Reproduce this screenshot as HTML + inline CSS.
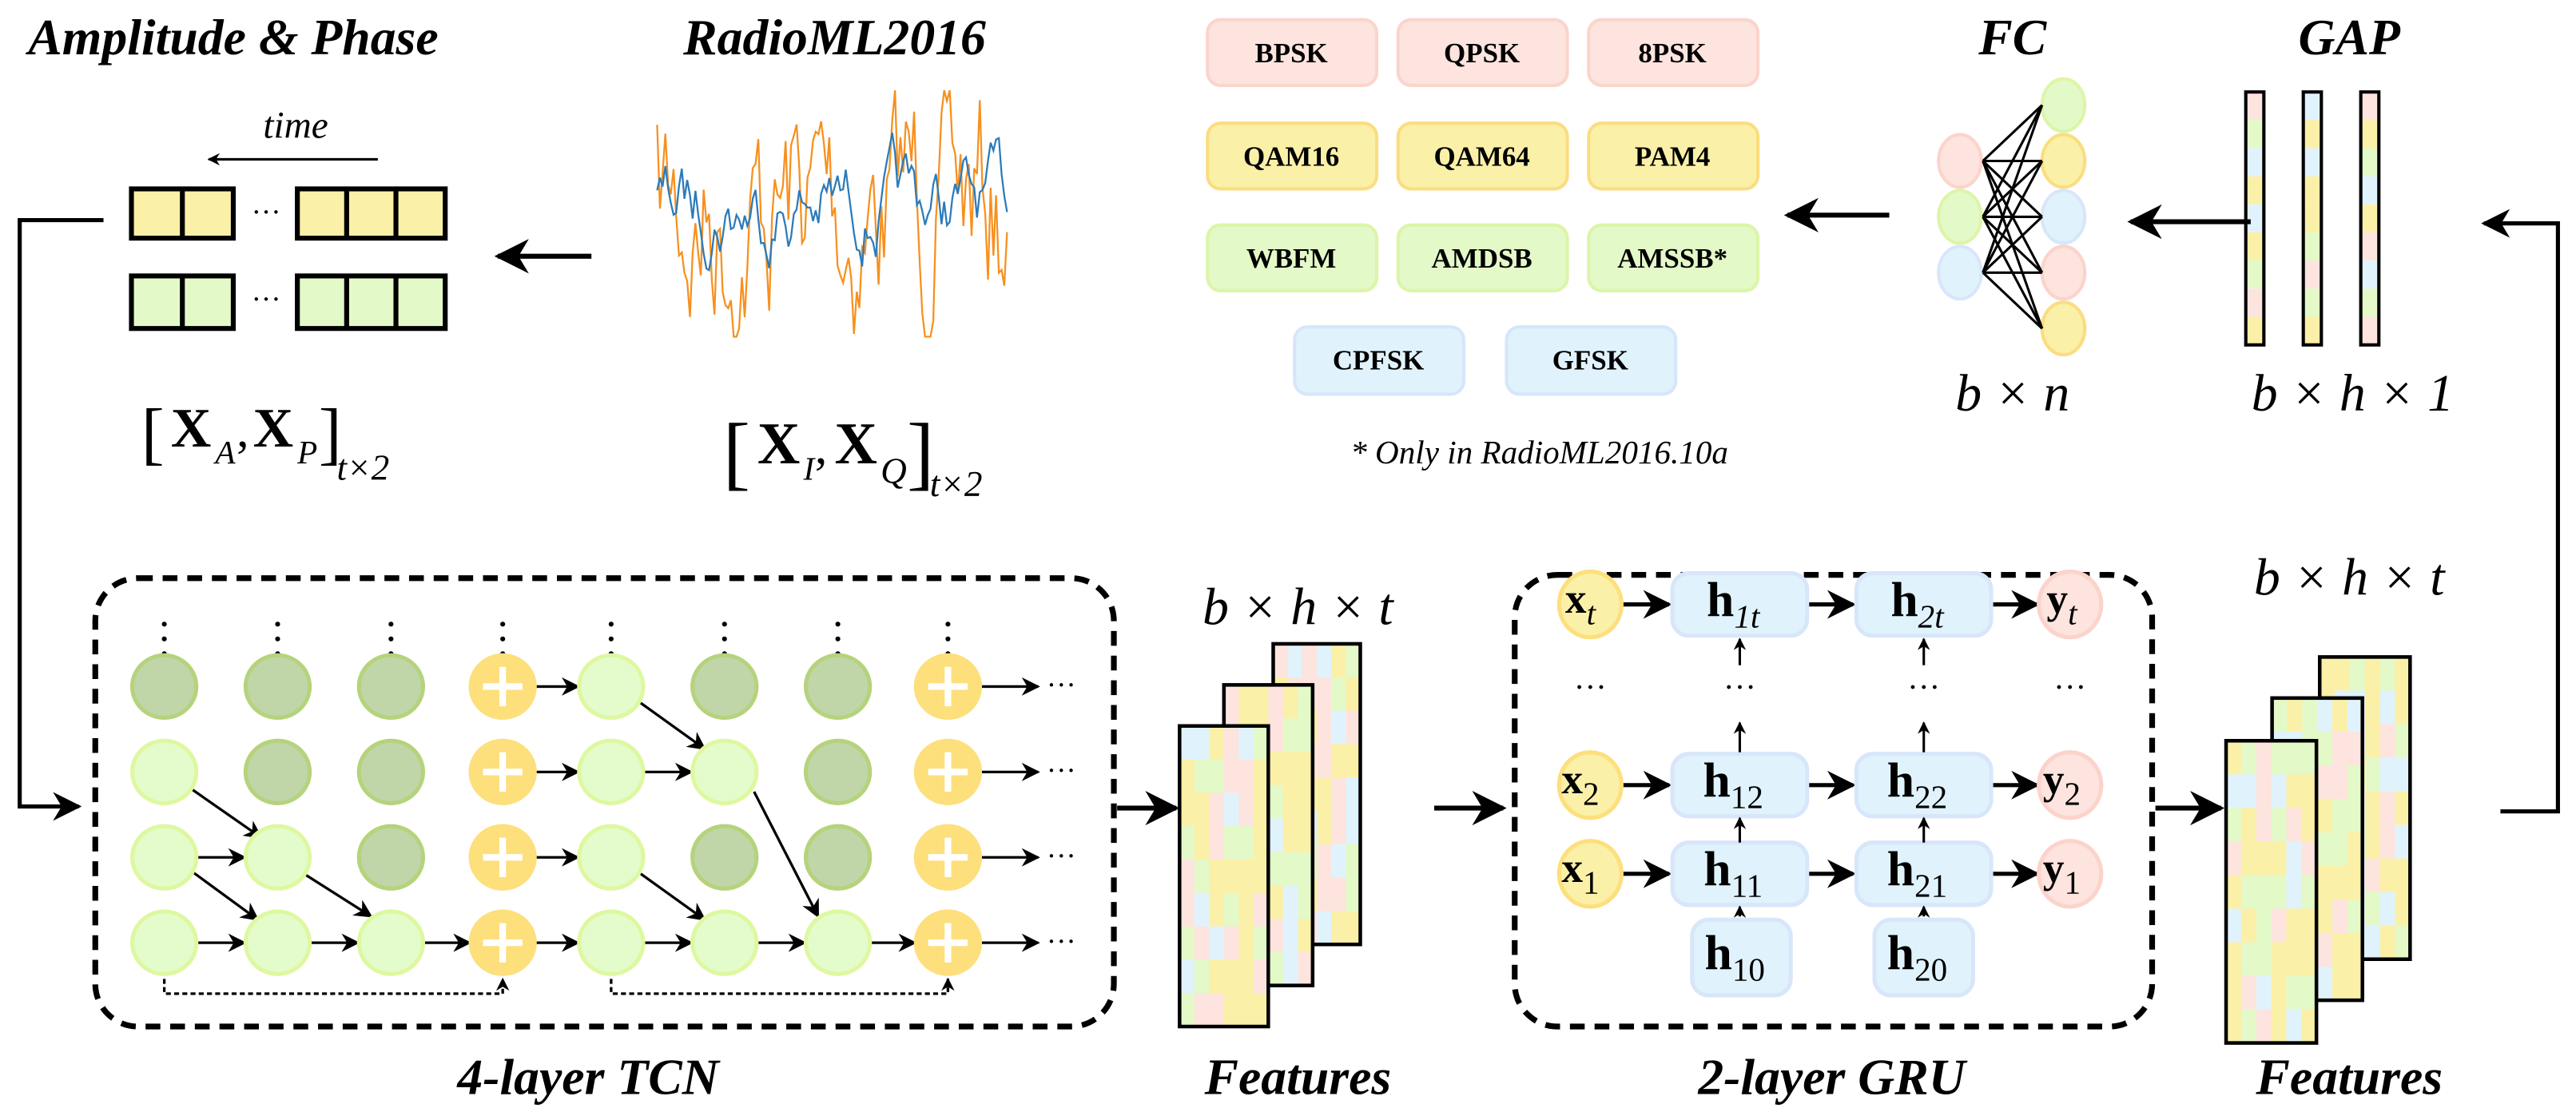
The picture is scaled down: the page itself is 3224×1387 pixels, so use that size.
<!DOCTYPE html>
<html><head><meta charset="utf-8"><style>
html,body{margin:0;padding:0;background:#fff}
svg{display:block;font-family:"Liberation Serif","DejaVu Serif",serif}
svg text{font-family:"Liberation Serif","DejaVu Serif",serif}
.t{font-weight:bold;font-style:italic;font-size:31px}
.it{font-style:italic}
</style></head><body>
<svg id="s" width="3224" height="1387" viewBox="0 0 1568 674.6" preserveAspectRatio="none" xmlns="http://www.w3.org/2000/svg" font-family="Liberation Serif, serif">
<defs>
<marker id="a" viewBox="0 0 10 10" refX="9" refY="5" markerWidth="5" markerHeight="5" orient="auto"><path d="M0,0 L10,5 L0,10 L3,5z" fill="#000"/></marker>
<marker id="b" viewBox="0 0 10 10" refX="9" refY="5" markerWidth="7" markerHeight="7" orient="auto"><path d="M0,0 L10,5 L0,10 L3,5z" fill="#000"/></marker>
</defs>
<g id="g"></g>
<text class="t" x="142" y="33" text-anchor="middle" font-size="32">Amplitude &amp; Phase</text>
<text class="t" x="508" y="33" text-anchor="middle" font-size="32">RadioML2016</text>
<text class="t" x="1225" y="33" text-anchor="middle" font-size="32">FC</text>
<text class="t" x="1430" y="33" text-anchor="middle" font-size="32">GAP</text>
<text x="180" y="84" class="it" font-size="23" text-anchor="middle">time</text>
<line x1="230" y1="97" x2="127" y2="97" stroke="#000" stroke-width="1.5" marker-end="url(#a)"/>
<g stroke="#000" stroke-width="3">
<rect x="80" y="115" width="62" height="30" fill="#fbf0a8"/><line x1="111" y1="115" x2="111" y2="145"/>
<rect x="181" y="115" width="90" height="30" fill="#fbf0a8"/><line x1="211" y1="115" x2="211" y2="145"/><line x1="241" y1="115" x2="241" y2="145"/>
<rect x="80" y="168" width="62" height="32" fill="#e4f9c8"/><line x1="111" y1="168" x2="111" y2="200"/>
<rect x="181" y="168" width="90" height="32" fill="#e4f9c8"/><line x1="211" y1="168" x2="211" y2="200"/><line x1="241" y1="168" x2="241" y2="200"/>
</g>
<text x="162" y="135" font-size="18" text-anchor="middle">···</text>
<text x="162" y="188" font-size="18" text-anchor="middle">···</text>
<line x1="360" y1="156" x2="303" y2="156" stroke="#000" stroke-width="3" marker-end="url(#b)"/>
<text x="86" y="278" font-size="42">[</text><text x="104" y="272" font-size="34" font-weight="bold">X</text><text x="131" y="282" font-size="20" class="it">A</text><text x="144" y="272" font-size="30">,</text><text x="154" y="272" font-size="34" font-weight="bold">X</text><text x="181" y="282" font-size="20" class="it">P</text><text x="194" y="278" font-size="42">]</text><text x="205" y="292" font-size="22" class="it">t×2</text>
<text x="440" y="292" font-size="50">[</text><text x="461" y="282" font-size="36" font-weight="bold">X</text><text x="489" y="292" font-size="20" class="it">I</text><text x="496" y="282" font-size="30">,</text><text x="508" y="282" font-size="36" font-weight="bold">X</text><text x="536" y="294" font-size="22" class="it">Q</text><text x="552" y="292" font-size="50">]</text><text x="566" y="302" font-size="22" class="it">t×2</text>
<g stroke-width="2">
<rect x="735" y="12" width="103" height="40" rx="8" fill="#fde4de" stroke="#fbd4cc"/>
<rect x="851" y="12" width="103" height="40" rx="8" fill="#fde4de" stroke="#fbd4cc"/>
<rect x="967" y="12" width="103" height="40" rx="8" fill="#fde4de" stroke="#fbd4cc"/>
<rect x="735" y="75" width="103" height="40" rx="8" fill="#fbf0a8" stroke="#fbdd80"/>
<rect x="851" y="75" width="103" height="40" rx="8" fill="#fbf0a8" stroke="#fbdd80"/>
<rect x="967" y="75" width="103" height="40" rx="8" fill="#fbf0a8" stroke="#fbdd80"/>
<rect x="735" y="137" width="103" height="40" rx="8" fill="#e4f9c8" stroke="#dcf5a8"/>
<rect x="851" y="137" width="103" height="40" rx="8" fill="#e4f9c8" stroke="#dcf5a8"/>
<rect x="967" y="137" width="103" height="40" rx="8" fill="#e4f9c8" stroke="#dcf5a8"/>
<rect x="788" y="199" width="103" height="41" rx="8" fill="#e0f3fc" stroke="#d6e6fa"/>
<rect x="917" y="199" width="103" height="41" rx="8" fill="#e0f3fc" stroke="#d6e6fa"/>
</g>
<g text-anchor="middle" font-weight="bold" font-size="17">
<text x="786" y="38">BPSK</text><text x="902" y="38">QPSK</text><text x="1018" y="38">8PSK</text>
<text x="786" y="101">QAM16</text><text x="902" y="101">QAM64</text><text x="1018" y="101">PAM4</text>
<text x="786" y="163">WBFM</text><text x="902" y="163">AMDSB</text><text x="1018" y="163">AMSSB*</text>
<text x="839" y="225">CPFSK</text><text x="968" y="225">GFSK</text>
</g>
<text x="937" y="282" font-size="20" class="it" text-anchor="middle">* Only in RadioML2016.10a</text>
<line x1="1150" y1="131" x2="1088" y2="131" stroke="#000" stroke-width="3" marker-end="url(#b)"/>
<line x1="1370" y1="135" x2="1297" y2="135" stroke="#000" stroke-width="3" marker-end="url(#b)"/>
<text x="1225" y="250" font-size="32" class="it" text-anchor="middle">b × n</text>
<text x="1432" y="250" font-size="32" class="it" text-anchor="middle">b × h × 1</text>
<polyline points="1522,494 1557,494 1557,136 1512,136" fill="none" stroke="#000" stroke-width="2.5" marker-end="url(#b)"/>
<polyline points="63,134 12,134 12,491 48,491" fill="none" stroke="#000" stroke-width="2.5" marker-end="url(#b)"/>
<rect x="58" y="352" width="620" height="273" rx="26" fill="none" stroke="#000" stroke-width="3.5" stroke-dasharray="9,6"/>
<text x="358" y="666" class="t" font-size="31" text-anchor="middle">4-layer TCN</text>
<line x1="680" y1="492" x2="716" y2="492" stroke="#000" stroke-width="3" marker-end="url(#b)"/>
<line x1="873" y1="492" x2="915" y2="492" stroke="#000" stroke-width="3" marker-end="url(#b)"/>
<line x1="1312" y1="492" x2="1352" y2="492" stroke="#000" stroke-width="3" marker-end="url(#b)"/>
<text x="790" y="380" font-size="32" class="it" text-anchor="middle">b × h × t</text>
<text x="1430" y="362" font-size="32" class="it" text-anchor="middle">b × h × t</text>
<text x="790" y="666" class="t" font-size="31" text-anchor="middle">Features</text>
<text x="1430" y="666" class="t" font-size="31" text-anchor="middle">Features</text>
<rect x="922" y="350" width="388" height="275" rx="26" fill="none" stroke="#000" stroke-width="3.5" stroke-dasharray="9,6"/>
<text x="1115" y="666" class="t" font-size="31" text-anchor="middle">2-layer GRU</text>
<g id="gru"></g>
</svg>
<script>
var NS="http://www.w3.org/2000/svg",g=document.getElementById('g');
function el(t,a,p){var e=document.createElementNS(NS,t);for(var k in a)e.setAttribute(k,a[k]);(p||g).appendChild(e);return e;}
var seed=7;function r(){seed=(seed*16807)%2147483647;return seed/2147483647;}
function sig(col,amp,vol){var d="",v=0;for(var i=0;i<=128;i++){v=v*0.8+(r()-0.5)*vol;var x=400+i*213/128,y=125+v*amp;y=Math.max(55,Math.min(205,y));d+=(i?"L":"M")+x.toFixed(1)+","+y.toFixed(1);}el('path',{d:d,fill:'none',stroke:col,'stroke-width':1.1});}
sig('#f7901e',1.4,70);sig('#2b7bba',0.55,60);
var L=[98,132,166],R=[64,98,132,166,200],lc=['#fde4de','#e4f9c8','#e0f3fc'],ls=['#fcd3cb','#dcf5a8','#d8e6fa'],rc=['#e4f9c8','#fbf0a8','#e0f3fc','#fde4de','#fbf0a8'],rs=['#dcf5a8','#fbdd80','#d8e6fa','#fcd3cb','#fbdd80'];
L.forEach(function(y,i){el('ellipse',{cx:1193,cy:y,rx:13,ry:16,fill:lc[i],stroke:ls[i],'stroke-width':2});});
R.forEach(function(y,i){el('ellipse',{cx:1256,cy:y,rx:13,ry:16,fill:rc[i],stroke:rs[i],'stroke-width':2});});
L.forEach(function(a){R.forEach(function(b){el('line',{x1:1207,y1:a,x2:1243,y2:b,stroke:'#000','stroke-width':1.5});});});
var pc={p:'#fde4de',g:'#e4f9c8',b:'#e0f3fc',y:'#fbf0a8'};
var bars=[[1367,'pgbybygpy'],[1402,'bybyygpgy'],[1437,'pygbypbgp']];
bars.forEach(function(b){for(var i=0;i<9;i++)el('rect',{x:b[0],y:56+i*17.1,width:11,height:17.1,fill:pc[b[1][i]]});el('rect',{x:b[0],y:56,width:11,height:154,fill:'none',stroke:'#000','stroke-width':2});});
var cols=['#fbf0a8','#e4f9c8','#fbf0a8','#fde4de','#e4f9c8','#fbf0a8','#e0f3fc','#fde4de'];
function stack(x,y,w,h){for(var i=0;i<9;i++)for(var j=0;j<6;j++)el('rect',{x:x+j*w/6,y:y+i*h/9,width:w/6+0.3,height:h/9+0.3,fill:cols[Math.floor(r()*8)]});el('rect',{x:x,y:y,width:w,height:h,fill:'none',stroke:'#000','stroke-width':2.2});}
stack(775,392,53,183);stack(745,417,54,183);stack(718,442,54,183);
stack(1412,400,55,184);stack(1383,425,55,184);stack(1355,451,55,184);
var X=[100,169,238,306,372,441,510,577],Y=[418,470,522,574];
var lg=['#e4fccb','#def8a0'],dg=['#c0d6a8','#b5d37c'],or=['#fddf7c','#fddf7c'];
var dark={'0,0':1,'1,0':1,'2,0':1,'1,1':1,'2,1':1,'2,2':1,'5,0':1,'6,0':1,'6,1':1,'5,2':1,'6,2':1};
function ar(x1,y1,x2,y2){el('line',{x1:x1,y1:y1,x2:x2,y2:y2,stroke:'#000','stroke-width':1.6,'marker-end':'url(#b)'});}
for(var c=0;c<8;c++){for(var k=0;k<3;k++)el('circle',{cx:X[c],cy:380+k*9,r:1.5,fill:'#000'});}
[[0,3],[1,3],[2,3],[3,3],[4,3],[5,3],[6,3],[3,0],[3,1],[3,2],[4,1],[0,2]].forEach(function(p){ar(X[p[0]]+20,Y[p[1]],X[p[0]+1]-20,Y[p[1]]);});
[0,1,2,3].forEach(function(i){ar(X[7]+20,Y[i],X[7]+55,Y[i]);el('text',{x:X[7]+60,y:Y[i]+5,'font-size':18},g).textContent='···';});
ar(X[0]+16,Y[1]+10,X[1]-10,Y[2]-12);ar(X[0]+16,Y[2]+8,X[1]-12,Y[3]-14);ar(X[1]+16,Y[2]+10,X[2]-12,Y[3]-16);
ar(X[4]+18,Y[0]+10,X[5]-12,Y[1]-14);ar(X[4]+18,Y[2]+10,X[5]-12,Y[3]-14);ar(X[5]+18,Y[1]+12,X[6]-12,Y[3]-16);
el('polyline',{points:X[0]+','+(Y[3]+22)+' '+X[0]+','+605+' '+X[3]+','+605+' '+X[3]+','+(Y[3]+22),fill:'none',stroke:'#000','stroke-width':1.6,'stroke-dasharray':'3,2','marker-end':'url(#a)'});
el('polyline',{points:X[4]+','+(Y[3]+22)+' '+X[4]+','+605+' '+X[7]+','+605+' '+X[7]+','+(Y[3]+22),fill:'none',stroke:'#000','stroke-width':1.6,'stroke-dasharray':'3,2','marker-end':'url(#a)'});
for(var c=0;c<8;c++)for(var rr=0;rr<4;rr++){
 var col=(c==3||c==7)?or:(dark[c+','+rr]?dg:lg);
 el('ellipse',{cx:X[c],cy:Y[rr],rx:19.5,ry:19,fill:col[0],stroke:col[1],'stroke-width':2.5});
 if(c==3||c==7){el('rect',{x:X[c]-2,y:Y[rr]-12,width:4,height:24,fill:'#fff'});el('rect',{x:X[c]-12,y:Y[rr]-2,width:24,height:4,fill:'#fff'});}
}
var G=document.getElementById('gru');
var rows=[368,478,532];
function lab(x,y,b,s,fs){var t=el('text',{x:x,y:y,'font-size':fs||28,'font-weight':'bold','text-anchor':'middle'},G);t.textContent=b;var ts=document.createElementNS(NS,'tspan');ts.setAttribute('font-size',20);ts.setAttribute('font-weight','normal');ts.setAttribute('dy',7);if(s.indexOf('t')>=0)ts.setAttribute('font-style','italic');ts.textContent=s;t.appendChild(ts);}
function gar(x1,y1,x2,y2,w){el('line',{x1:x1,y1:y1,x2:x2,y2:y2,stroke:'#000','stroke-width':w||2.5,'marker-end':'url(#'+(w?'a':'b')+')'},G);}
var subs=['t','2','1'],h1=['1t','12','11'],h2=['2t','22','21'];
rows.forEach(function(y,i){
 gar(988,y,1016,y);gar(1100,y,1128,y);gar(1212,y,1240,y);
 el('ellipse',{cx:968,cy:y,rx:19,ry:20,fill:'#fbf0a8',stroke:'#fddf7c','stroke-width':2.5},G);
 el('ellipse',{cx:1260,cy:y,rx:19,ry:20,fill:'#fde4de',stroke:'#fcd3cb','stroke-width':2.5},G);
 el('rect',{x:1018,y:y-19,width:82,height:38,rx:10,fill:'#e0f3fc',stroke:'#d8e6fa','stroke-width':2.5},G);
 el('rect',{x:1130,y:y-19,width:82,height:38,rx:10,fill:'#e0f3fc',stroke:'#d8e6fa','stroke-width':2.5},G);
 lab(962,y+5,'x',subs[i],26);lab(1255,y+5,'y',subs[i],26);lab(1055,y+7,'h',h1[i],30);lab(1167,y+7,'h',h2[i],30);
});
el('rect',{x:1030,y:560,width:60,height:46,rx:10,fill:'#e0f3fc',stroke:'#d8e6fa','stroke-width':2.5},G);
el('rect',{x:1141,y:560,width:60,height:46,rx:10,fill:'#e0f3fc',stroke:'#d8e6fa','stroke-width':2.5},G);
lab(1056,590,'h','10',30);lab(1167,590,'h','20',30);
[1059,1171].forEach(function(x){gar(x,558,x,552,1.5);gar(x,513,x,498,1.5);gar(x,458,x,440,1.5);gar(x,405,x,389,1.5);});
[968,1059,1171,1260].forEach(function(x){var t=el('text',{x:x,y:425,'font-size':20,'text-anchor':'middle'},G);t.textContent='···';});
</script>
</body></html>
